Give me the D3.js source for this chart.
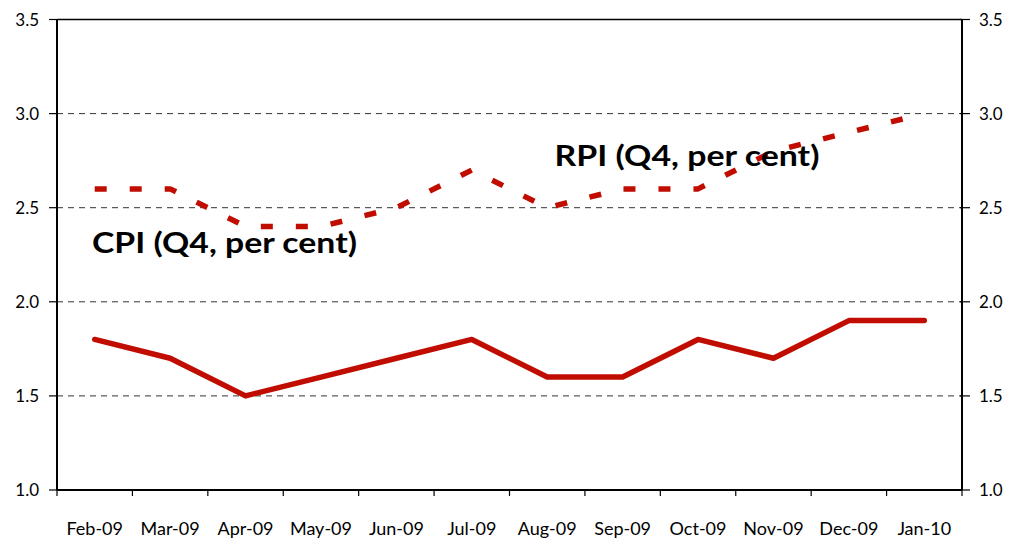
<!DOCTYPE html>
<html><head><meta charset="utf-8">
<script src="https://cdn.jsdelivr.net/npm/d3@7"></script>
<style>
html,body{margin:0;padding:0;background:#fff;}
svg{display:block;}
text{font-family:Lato,"DejaVu Sans",sans-serif;fill:#000;}
</style></head>
<body>
<svg id="chart" width="1011" height="544"></svg>
<script>
const months = ["Feb-09","Mar-09","Apr-09","May-09","Jun-09","Jul-09","Aug-09","Sep-09","Oct-09","Nov-09","Dec-09","Jan-10"];
const cpi = [1.8,1.7,1.5,1.6,1.7,1.8,1.6,1.6,1.8,1.7,1.9,1.9];
const rpi = [2.6,2.6,2.4,2.4,2.5,2.7,2.5,2.6,2.6,2.8,2.9,3.0];
const yTicks = [1.0,1.5,2.0,2.5,3.0,3.5];
const gridTicks = [1.5,2.0,2.5,3.0];
const labels = [
  {text:"CPI (Q4, per cent)", at:"Feb-09", value:2.26},
  {text:"RPI (Q4, per cent)", at:"Aug-09", value:2.722}
];

const W=1011,H=544;
const m={left:57,right:W-962,top:19.5,bottom:H-490};
const svg=d3.select("#chart");
const x=d3.scaleBand().domain(months).range([m.left,W-m.right]);
const y=d3.scaleLinear().domain([1,3.5]).range([H-m.bottom,m.top]);
const red="#c00d00";

// gridlines
svg.append("g").selectAll("line").data(gridTicks).join("line")
  .attr("x1",m.left).attr("x2",W-m.right)
  .attr("y1",d=>y(d)).attr("y2",d=>y(d))
  .attr("stroke","#333").attr("stroke-width",1).attr("stroke-dasharray","6,5");
// top border
svg.append("line").attr("x1",m.left).attr("x2",W-m.right).attr("y1",y(3.5)).attr("y2",y(3.5))
  .attr("stroke","#000").attr("stroke-width",1.5);

// x axis
const xa=svg.append("g").attr("transform",`translate(0,${y(1)})`);
xa.append("line").attr("x1",m.left).attr("x2",W-m.right).attr("stroke","#000").attr("stroke-width",2);
const bounds=months.map(d=>x(d)).concat([W-m.right]);
xa.selectAll("line.t").data(bounds).join("line").attr("class","t")
  .attr("x1",d=>d).attr("x2",d=>d).attr("y1",0).attr("y2",6).attr("stroke","#000").attr("stroke-width",1.2);
xa.selectAll("text").data(months).join("text")
  .attr("x",d=>x(d)+x.bandwidth()/2).attr("y",45)
  .attr("text-anchor","middle").attr("font-size",18).text(d=>d);

// left axis
const fmt=d3.format(".1f");
const ya=svg.append("g");
ya.append("line").attr("x1",m.left).attr("x2",m.left).attr("y1",y(1)).attr("y2",y(3.5)).attr("stroke","#000").attr("stroke-width",2);
ya.selectAll("line.t").data(yTicks).join("line").attr("class","t")
  .attr("x1",m.left-8).attr("x2",m.left).attr("y1",d=>y(d)).attr("y2",d=>y(d)).attr("stroke","#000").attr("stroke-width",1.2);
ya.selectAll("text").data(yTicks).join("text")
  .attr("x",m.left-18).attr("y",d=>y(d)).attr("dy","0.36em")
  .attr("text-anchor","end").attr("font-size",17).text(fmt);

// right axis
const xr=W-m.right;
const yr=svg.append("g");
yr.append("line").attr("x1",xr).attr("x2",xr).attr("y1",y(1)).attr("y2",y(3.5)).attr("stroke","#000").attr("stroke-width",2);
yr.selectAll("line.t").data(yTicks).join("line").attr("class","t")
  .attr("x1",xr-2).attr("x2",xr+8).attr("y1",d=>y(d)).attr("y2",d=>y(d)).attr("stroke","#000").attr("stroke-width",1.2);
yr.selectAll("text").data(yTicks).join("text")
  .attr("x",xr+17).attr("y",d=>y(d)).attr("dy","0.36em")
  .attr("text-anchor","start").attr("font-size",17).text(fmt);

// lines
const line=d3.line().x((d,i)=>x(months[i])+x.bandwidth()/2).y(d=>y(d));
svg.append("path").datum(rpi).attr("d",line).attr("fill","none")
  .attr("stroke",red).attr("stroke-width",5.5).attr("stroke-dasharray","12,23").attr("stroke-linejoin","round");
svg.append("path").datum(cpi).attr("d",line).attr("fill","none")
  .attr("stroke",red).attr("stroke-width",5.5).attr("stroke-linejoin","round").attr("stroke-linecap","round");

// labels
svg.selectAll("text.lbl").data(labels).join("text").attr("class","lbl")
  .attr("x",(d,i)=> i===0 ? x(d.at)+35 : x(d.at)+45)
  .attr("y",d=>y(d.value))
  .attr("font-size",29).attr("font-weight","bold")
  .attr("textLength",265).attr("lengthAdjust","spacingAndGlyphs")
  .text(d=>d.text);
</script>
</body></html>
